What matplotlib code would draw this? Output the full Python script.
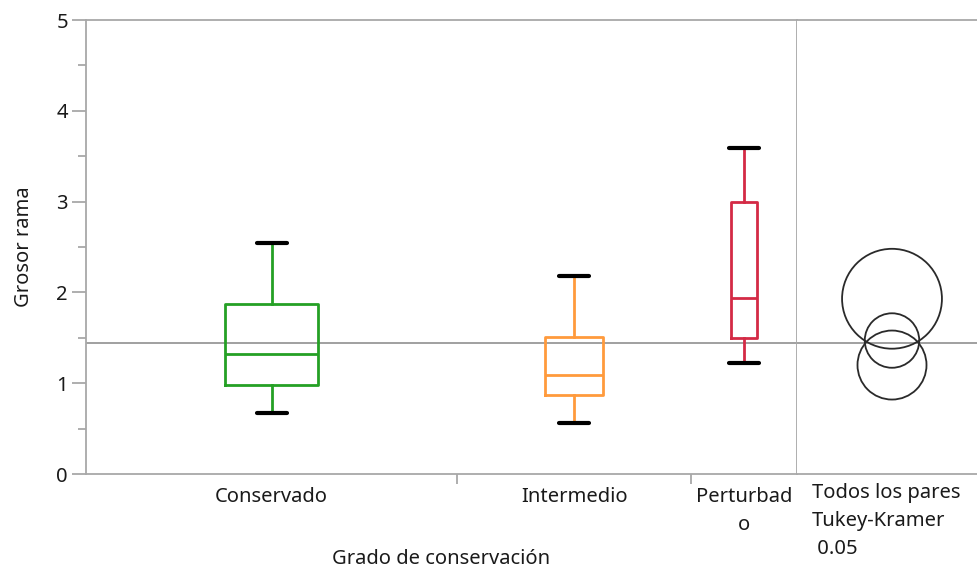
import numpy as np
import matplotlib
matplotlib.use("Agg")
import matplotlib.pyplot as plt
from matplotlib.patches import Circle
from matplotlib.ticker import MultipleLocator

plt.rcParams['font.family'] = ['Noto Sans', 'DejaVu Sans']

# groups, sizes and box summary (Grosor rama)
groups = ['Conservado', 'Intermedio', 'Perturbado']
group_labels = ['Conservado', 'Intermedio', 'Perturbad\no']
group_n = [35, 22, 10]
whisk_lo = [0.67, 0.56, 1.22]
q1 = [0.98, 0.87, 1.50]
med = [1.32, 1.09, 1.94]
q3 = [1.87, 1.51, 3.00]
whisk_hi = [2.54, 2.18, 3.59]

# comparison circles (Tukey-Kramer 0.05)
group_means = [1.47, 1.20, 1.93]
circle_radius = [0.30, 0.38, 0.55]
grand_mean = 1.44

colors = ['#25A025', '#FF9A3C', '#D42A45']
grid_grey = '#A8A8A8'
text_col = '#1a1a1a'
fs = 14.5
lsp = 1.55

W, H = 977, 571
fig = plt.figure(figsize=(W / 100, H / 100), dpi=100)
ax = fig.add_axes([86 / W, (H - 474) / H, (797 - 86) / W, (474 - 20) / H])
ax2 = fig.add_axes([797 / W, (H - 474) / H, (977 - 797) / W, (474 - 20) / H], sharey=ax)

# x widths proportional to group size
edges = np.concatenate([[0], np.cumsum(group_n)])
centers = (edges[:-1] + edges[1:]) / 2
widths = np.diff(edges) * 0.25
total = edges[-1]
px = total / (797 - 86)

for i in range(len(groups)):
    stats = [dict(med=med[i], q1=q1[i], q3=q3[i], whislo=whisk_lo[i],
                  whishi=whisk_hi[i], fliers=[])]
    c = colors[i]
    ax.bxp(stats, positions=[centers[i]], widths=[widths[i]], capwidths=[30 * px],
           showfliers=False, manage_ticks=False,
           boxprops=dict(color=c, linewidth=2.0),
           medianprops=dict(color=c, linewidth=2.0),
           whiskerprops=dict(color=c, linewidth=2.0),
           capprops=dict(color='black', linewidth=3.0, solid_capstyle='round'),
           zorder=3)

ax.set_xlim(0, total)
ax.set_ylim(0, 5)
for a in (ax, ax2):
    a.axhline(grand_mean, color='#999999', linewidth=1.3, zorder=1)
    for s in a.spines.values():
        s.set_color(grid_grey)
        s.set_linewidth(1.3)
ax2.spines['left'].set_visible(False)
ax2.spines['right'].set_visible(False)

ax.yaxis.set_major_locator(MultipleLocator(1))
ax.yaxis.set_minor_locator(MultipleLocator(0.5))
ax.tick_params(axis='y', which='major', length=10, width=1.3, color=grid_grey,
               labelsize=fs, labelcolor=text_col, pad=3)
ax.tick_params(axis='y', which='minor', length=6, width=1.3, color=grid_grey)

ax.set_xticks(edges[1:-1], minor=True)
ax.set_xticks(centers, group_labels)
ax.tick_params(axis='x', which='major', length=0, labelsize=fs,
               labelcolor=text_col, pad=9)
ax.tick_params(axis='x', which='minor', length=7, width=1.3, color=grid_grey)
for lbl in ax.get_xticklabels():
    lbl.set_linespacing(lsp)
    lbl.set_verticalalignment('top')

ax.set_ylabel('Grosor rama', fontsize=fs, color=text_col, labelpad=16)
ax.set_xlabel('Grado de conservación', fontsize=fs, color=text_col, labelpad=10)

# comparison circles panel, equal scale on both axes
ax2.tick_params(which='both', left=False, labelleft=False, bottom=False,
                labelbottom=False)
span = 5 * (977 - 797) / (474 - 20)
ax2.set_xlim(0, span)
cx = span * 95 / (977 - 797)
for m, r in zip(group_means, circle_radius):
    ax2.add_patch(Circle((cx, m), r, fill=False, edgecolor='#2a2a2a',
                         linewidth=1.3, zorder=3))
ax2.text(15 / (977 - 797), -9 / (474 - 20), 'Todos los pares\nTukey-Kramer\n 0.05',
         transform=ax2.transAxes, ha='left', va='top', fontsize=fs,
         color=text_col, linespacing=lsp)

fig.savefig('out.png', dpi=100)
